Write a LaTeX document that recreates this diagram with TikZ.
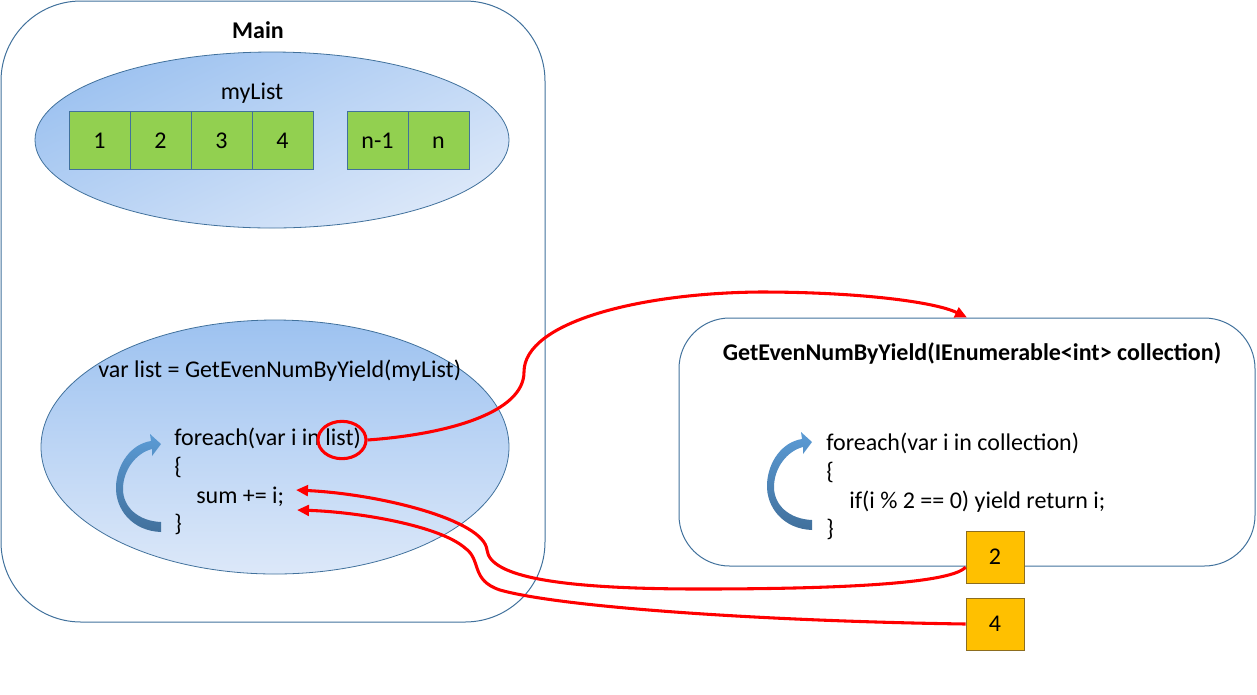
\documentclass[tikz,border=0pt]{standalone}
\usepackage{fontspec}
\setmainfont{Carlito}
\usetikzlibrary{arrows.meta,shapes.geometric}
\definecolor{edgeblue}{HTML}{41719C}
\definecolor{ellTop}{HTML}{9DC2F0}
\definecolor{ellBot}{HTML}{DCE8F9}
\definecolor{cellgreen}{HTML}{92D050}
\definecolor{cellyellow}{HTML}{FFC000}
\definecolor{yedge}{HTML}{8C6D1F}
\definecolor{arrTop}{HTML}{5B9BD5}
\definecolor{arrBot}{HTML}{41709C}
\tikzset{
  frame/.style={draw=edgeblue, line width=0.75pt, rounded corners=#1, inner sep=0pt},
  cloud/.style={ellipse, draw=edgeblue, line width=0.6pt, inner sep=0pt, top color=ellTop, bottom color=ellBot},
  cell/.style={rectangle, draw=edgeblue, line width=0.6pt, fill=cellgreen, minimum width=45.75pt, minimum height=43.5pt, inner sep=0pt},
  ycell/.style={rectangle, draw=yedge, line width=0.6pt, fill=cellyellow, minimum width=43.5pt, minimum height=39pt, inner sep=0pt},
  code/.style={anchor=base west, inner sep=0pt},
  flow/.style={draw=red, line width=2.3pt, -{Triangle[length=9pt,width=8pt]}},
  looparrow/.pic={
    \shade[top color=arrTop, bottom color=arrBot]
      (0,88) .. controls (-28,87) and (-46,66) .. (-45,42)
      .. controls (-44,20) and (-30,0) .. (-10,-3) -- (-11,-10) -- (0,0) -- (-9,12) -- (-9,5)
      .. controls (-25,9) and (-38,26) .. (-38,45)
      .. controls (-38,63) and (-23,77) .. (0,78) -- cycle;
  }
}
\begin{document}
\begin{tikzpicture}[x=0.75pt,y=-0.75pt,font=\fontsize{18}{22}\selectfont]
\useasboundingbox (0,0) rectangle (1257,694);

% Main frame
\node[frame=60pt, minimum width=408pt, minimum height=465.75pt] (main) at (273,311.5) {};
\node[anchor=base, font=\fontsize{18}{22}\selectfont\bfseries] (mainlbl) at (258,38) {Main};

% top ellipse with list
\node[cloud, shading angle=25, minimum width=355.5pt, minimum height=132pt] (listell) at (272,140) {};
\node[anchor=base] (mylist) at (252,99) {myList};
\node[cell] (c1) at (99.5,140) {};
\node[cell] (c2) at (160.5,140) {};
\node[cell] (c3) at (221.5,140) {};
\node[cell] (c4) at (282.5,140) {};
\node[cell] (cn1) at (377.5,140) {};
\node[cell] (cn) at (438.5,140) {};
\node[anchor=base] at (99.5,148) {1};
\node[anchor=base] at (160.5,148) {2};
\node[anchor=base] at (221.5,148) {3};
\node[anchor=base] at (282.5,148) {4};
\node[anchor=base] at (377.5,148) {n-1};
\node[anchor=base] at (438.5,148) {n};

% bottom ellipse with loop
\node[cloud, minimum width=351pt, minimum height=190.5pt] (loopell) at (275,447) {};
\node[code] (varline) at (98,377) {var list = GetEvenNumByYield(myList)};
\node[code] (fe1) at (174,445) {foreach(var i in list)};
\node[code] (ob1) at (174,474) {\{};
\node[code] (sum) at (196,503) {sum += i;};
\node[code] (cb1) at (174,531) {\}};
\pic at (161,444) {looparrow};
\node[ellipse, draw=red, line width=2.3pt, minimum width=36pt, minimum height=28pt, inner sep=0pt] (circ) at (342,440) {};

% right frame
\node[frame=38pt, minimum width=432pt, minimum height=186pt] (rbox) at (967,442) {};
\node[anchor=base, font=\fontsize{18}{22}\selectfont\bfseries] (rtitle) at (972,360) {GetEvenNumByYield(IEnumerable<int> collection)};
\node[code] (fe2) at (826,450) {foreach(var i in collection)};
\node[code] (ob2) at (826,479) {\{};
\node[code] (iff) at (849,508) {if(i \% 2 == 0) yield return i;};
\node[code] (cb2) at (826,536) {\}};
\pic at (812,442) {looparrow};

% yielded values
\node[ycell] (y2) at (995,557) {};
\node[anchor=base] at (995,564) {2};
\node[ycell] (y4) at (995,624) {};
\node[anchor=base] at (995,631) {4};

% targets
\coordinate (s1) at (296,490);
\coordinate (s2) at (297,510);

% red connectors
\draw[flow] (circ.east) .. controls (450,434) and (524,412) .. (524,372)
  .. controls (524,322) and (640,293) .. (760,292)
  .. controls (860,292) and (935,302) .. (rbox.north);
\draw[flow] (y2.199) .. controls (950,585) and (820,589) .. (700,589)
  .. controls (560,589) and (490,577) .. (487,550)
  .. controls (484,520) and (380,494) .. (s1);
\draw[flow] (y4.west) .. controls (760,621) and (560,607) .. (500,590)
  .. controls (470,580) and (482,560) .. (465,548)
  .. controls (440,526) and (360,512) .. (s2);
\end{tikzpicture}
\end{document}
